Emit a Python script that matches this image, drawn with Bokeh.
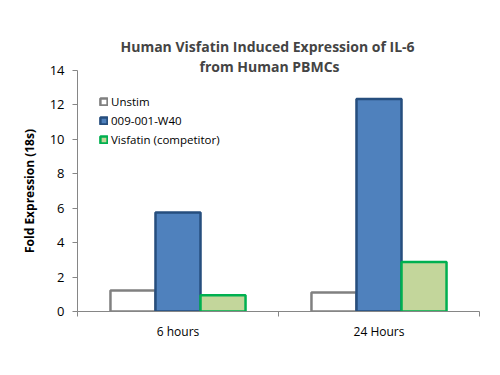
from bokeh.plotting import figure
from bokeh.models import Range1d, FixedTicker, Legend, LegendItem, Title
from bokeh.embed import file_html
from bokeh.resources import INLINE

categories = ["6 hours", "24 Hours"]
series_names = ["Unstim", "009-001-W40", "Visfatin (competitor)"]
unstim = [1.22, 1.1]
w40 = [5.75, 12.35]
visfatin = [0.95, 2.87]
y_ticks = [0, 2, 4, 6, 8, 10, 12, 14]

fills = ["#FFFFFF", "#4F81BD", "#C3D69B"]
lines = ["#808080", "#264E7E", "#00B050"]
FONT = "Open Sans"

p = figure(width=492, height=367, output_backend="svg", toolbar_location=None,
           x_range=Range1d(0, len(categories)), y_range=Range1d(0, 14),
           min_border_left=77, min_border_right=13, min_border_top=70, min_border_bottom=56)
p.outline_line_color = None
p.grid.grid_line_color = None
p.background_fill_color = None
p.border_fill_color = "white"

centers = [i + 0.5 for i in range(len(categories))]
bw = 0.224
items = []
for k, (vals, name) in enumerate(zip([unstim, w40, visfatin], series_names)):
    xs = [c + (k - 1) * bw for c in centers]
    r = p.vbar(x=xs, top=vals, width=bw, bottom=0, fill_color=fills[k],
               line_color=lines[k], line_width=2.5)
    items.append(LegendItem(label=name, renderers=[r]))

legend = Legend(items=items, location="top_left", margin=22, padding=0,
                glyph_width=9, glyph_height=9, label_height=18, spacing=1,
                label_standoff=3, label_text_font=FONT, label_text_font_size="11.5px",
                label_text_color="#000000", background_fill_alpha=0, border_line_color=None)
p.add_layout(legend)

xt = FixedTicker(ticks=centers, minor_ticks=list(range(len(categories) + 1)))
p.xaxis.ticker = xt
p.xaxis.major_label_overrides = {c: n for c, n in zip(centers, categories)}
p.xaxis.major_tick_out = 0
p.xaxis.major_tick_in = 0
p.xaxis.minor_tick_out = 5
p.xaxis.minor_tick_in = 0
p.xaxis.axis_line_color = "#868686"
p.xaxis.minor_tick_line_color = "#868686"
p.xaxis.major_label_text_font = FONT
p.xaxis.major_label_text_font_size = "12px"
p.xaxis.major_label_text_color = "#000000"
p.xaxis.major_label_standoff = 6

p.yaxis.ticker = FixedTicker(ticks=y_ticks)
p.yaxis.minor_tick_line_color = None
p.yaxis.major_tick_out = 5
p.yaxis.major_tick_in = 0
p.yaxis.axis_line_color = "#868686"
p.yaxis.major_tick_line_color = "#868686"
p.yaxis.major_label_text_font = FONT
p.yaxis.major_label_text_font_size = "13px"
p.yaxis.major_label_text_color = "#000000"
p.yaxis.major_label_standoff = 8
p.yaxis.axis_label = "Fold Expression (18s)"
p.yaxis.axis_label_text_font = FONT
p.yaxis.axis_label_text_font_style = "bold"
p.yaxis.axis_label_text_font_size = "12px"
p.yaxis.axis_label_text_color = "#000000"
p.yaxis.axis_label_standoff = 9

for txt, so, off in [("from Human PBMCs", -10, 122), ("Human Visfatin Induced Expression of IL-6", 8, 43)]:
    p.add_layout(Title(text=txt, align="left", text_font=FONT, text_font_style="bold",
                       text_font_size="14px", standoff=so, offset=off), "above")

open("out.html", "w").write(file_html(p, INLINE))
